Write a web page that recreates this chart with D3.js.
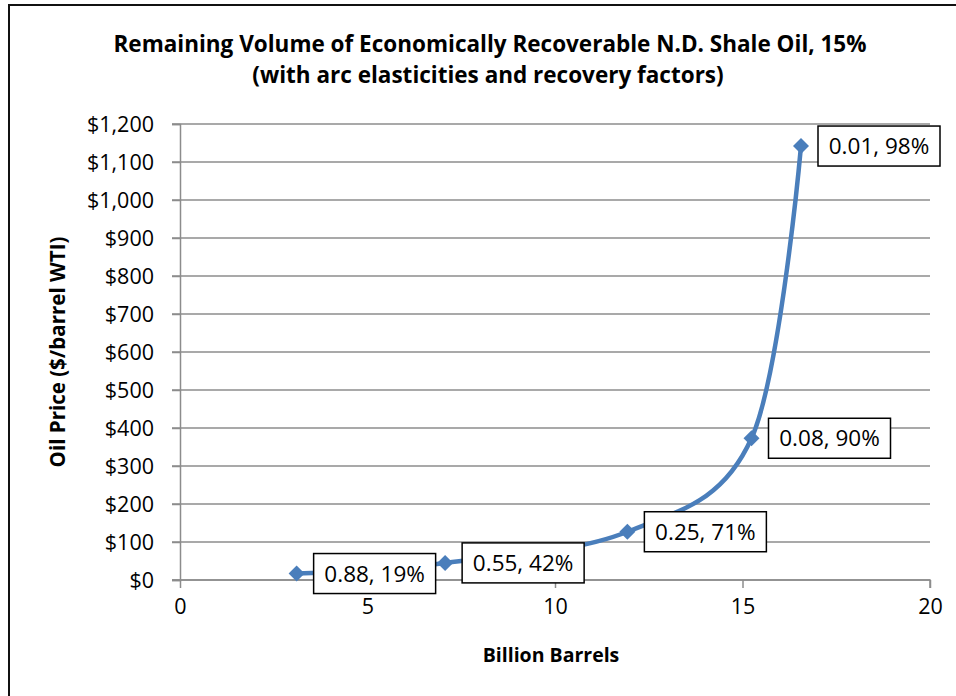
<!DOCTYPE html>
<html>
<head>
<meta charset="utf-8">
<script src="https://cdn.jsdelivr.net/npm/d3@7"></script>
<style>
  body { margin: 0; background: #fff; }
  text { font-family: "Open Sans", "Noto Sans", sans-serif; }
</style>
</head>
<body>
<script>
// data
var volume = [3.11, 7.07, 11.93, 15.24, 16.56];      // billion barrels
var price  = [17, 45, 127, 373, 1142];               // $/barrel WTI
var pointLabels = ["0.88, 19%", "0.55, 42%", "0.25, 71%", "0.08, 90%", "0.01, 98%"];
var xTicks = [0, 5, 10, 15, 20];
var yTicks = [0, 100, 200, 300, 400, 500, 600, 700, 800, 900, 1000, 1100, 1200];

var W = 956, H = 696;
var margin = {top: 124, right: 26, bottom: 116, left: 180};

var svg = d3.select("body").append("svg")
    .attr("width", W)
    .attr("height", H);

// chart border (right/bottom run off the picture)
svg.append("rect")
    .attr("x", 9).attr("y", 5)
    .attr("width", 960).attr("height", 720)
    .attr("fill", "#fff")
    .attr("stroke", "#111")
    .attr("stroke-width", 2);

var x = d3.scaleLinear().domain([0, 20]).range([margin.left, W - margin.right]);
var y = d3.scaleLinear().domain([0, 1200]).range([H - margin.bottom, margin.top]);

var grey = "#8c8c8c";

// gridlines
svg.append("g")
  .selectAll("line")
  .data(yTicks)
  .join("line")
    .attr("x1", x(0) - 8).attr("x2", x(20))
    .attr("y1", function(d) { return y(d); })
    .attr("y2", function(d) { return y(d); })
    .attr("stroke", grey)
    .attr("stroke-width", 1.5);

// y axis
var yAxis = d3.axisLeft(y)
    .tickValues(yTicks)
    .tickSize(8)
    .tickPadding(18)
    .tickFormat(function(d) { return "$" + d3.format(",")(d); });
var gy = svg.append("g")
    .attr("transform", "translate(" + x(0) + ",0)")
    .call(yAxis);

// x axis
var xAxis = d3.axisBottom(x)
    .tickValues(xTicks)
    .tickSize(8)
    .tickPadding(11)
    .tickFormat(d3.format("d"));
var gx = svg.append("g")
    .attr("transform", "translate(0," + y(0) + ")")
    .call(xAxis);

[gx, gy].forEach(function(g) {
  g.select(".domain").attr("stroke", grey).attr("stroke-width", 1.5);
  g.selectAll(".tick line").attr("stroke", grey).attr("stroke-width", 1.5);
  g.selectAll(".tick text")
    .attr("fill", "#000")
    .style("font-size", "21.5px")
    .style("font-family", "'Open Sans', sans-serif");
});
gy.selectAll(".tick line").attr("x2", -8);
gy.selectAll(".tick text").attr("x", -26).attr("dy", "0.35em");
gx.select(".domain").attr("d", "M" + (x(0) - 8) + ",0H" + x(20) + "V8");

// titles
var title = svg.append("text")
    .attr("text-anchor", "middle")
    .style("font-size", "22.5px")
    .style("font-weight", "bold");
title.append("tspan").attr("x", 490).attr("y", 52)
    .text("Remaining Volume of Economically Recoverable N.D. Shale Oil, 15%");
title.append("tspan").attr("x", 488).attr("y", 83)
    .text("(with arc elasticities and recovery factors)");

svg.append("text")
    .attr("x", 551)
    .attr("y", 662)
    .attr("text-anchor", "middle")
    .style("font-size", "19.5px")
    .style("font-weight", "bold")
    .text("Billion Barrels");

svg.append("text")
    .attr("transform", "translate(65," + (y(0) + y(1200)) / 2 + ") rotate(-90)")
    .attr("text-anchor", "middle")
    .style("font-size", "20.5px")
    .style("font-weight", "bold")
    .text("Oil Price ($/barrel WTI)");

// series
var pts = volume.map(function(v, i) {
  return {x: v, y: price[i], label: pointLabels[i]};
});

var line = d3.line()
    .x(function(d) { return x(d.x); })
    .y(function(d) { return y(d.y); })
    .curve(d3.curveCardinal.tension(0));

var blue = "#4a7ebb";

svg.append("path")
    .datum(pts)
    .attr("d", line)
    .attr("fill", "none")
    .attr("stroke", blue)
    .attr("stroke-width", 4.5);

svg.append("g")
  .selectAll("path")
  .data(pts)
  .join("path")
    .attr("transform", function(d) { return "translate(" + x(d.x) + "," + y(d.y) + ")"; })
    .attr("d", "M0,-8L8,0L0,8L-8,0Z")
    .attr("fill", blue);

// data labels
var lab = svg.append("g")
  .selectAll("g")
  .data(pts)
  .join("g")
    .attr("transform", function(d) { return "translate(" + (x(d.x) + 17) + "," + y(d.y) + ")"; });

lab.append("rect")
    .attr("x", 0).attr("y", -20)
    .attr("width", 122).attr("height", 40)
    .attr("fill", "#fff")
    .attr("stroke", "#000")
    .attr("stroke-width", 1.5);

lab.append("text")
    .attr("x", 61)
    .attr("y", 8)
    .attr("text-anchor", "middle")
    .style("font-size", "22.5px")
    .text(function(d) { return d.label; });
</script>
</body>
</html>
